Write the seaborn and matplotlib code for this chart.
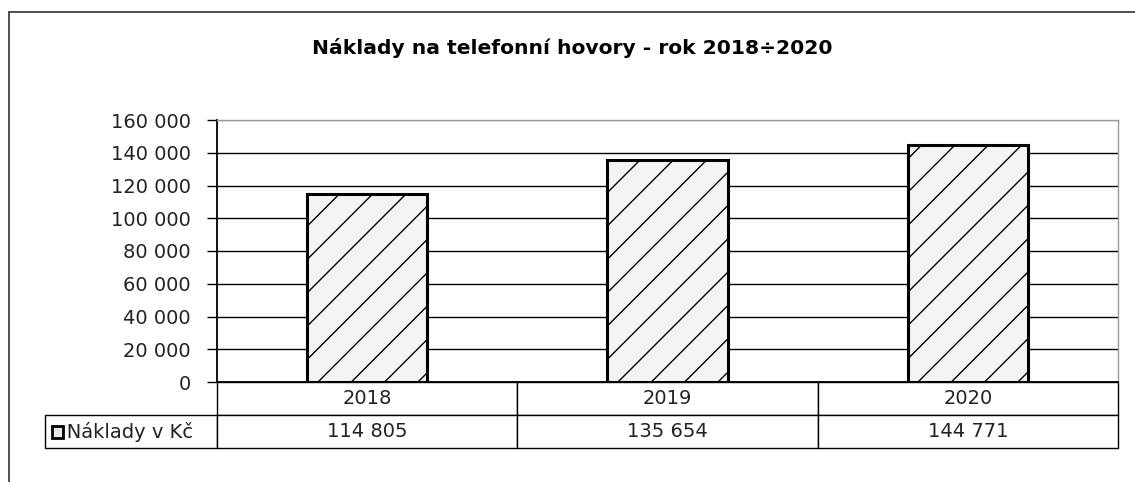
import pandas as pd
import seaborn as sns
import matplotlib.pyplot as plt
from matplotlib.patches import Rectangle
from matplotlib.lines import Line2D

# Chart data
years = ["2018", "2019", "2020"]
costs = [114805, 135654, 144771]
series_name = "Náklady v Kč"
title = "Náklady na telefonní hovory - rok 2018÷2020"
y_ticks = [0, 20000, 40000, 60000, 80000, 100000, 120000, 140000, 160000]


def fmt(v):
    return f"{v:,}".replace(",", " ")


df = pd.DataFrame({"rok": years, "naklady": costs})

sns.set_style("white")
plt.rcParams['font.family'] = ['DejaVu Sans']
plt.rcParams['hatch.linewidth'] = 1.0

W, H = 1135, 482
fig = plt.figure(figsize=(W / 100, H / 100), dpi=100)
fig.patch.set_facecolor("white")

# plot area in pixels
left, top, right, zero = 217, 120, 1118, 382
ax = fig.add_axes([left / W, 1 - zero / H, (right - left) / W, (zero - top) / H])

sns.barplot(data=df, x="rok", y="naklady", ax=ax, color="#f4f4f4",
            edgecolor="black", linewidth=2.2, width=0.4, hatch="/")

ax.set_ylim(0, 160000)
ax.set_xlim(-0.5, 2.5)
ax.set_yticks(y_ticks)
ax.set_yticklabels([fmt(v) for v in y_ticks], fontsize=14, color="#222222")
ax.set_xticks([])
ax.set_xlabel("")
ax.set_ylabel("")
ax.tick_params(axis="y", direction="out", length=7, width=1, color="black", pad=12, left=True)

ax.yaxis.grid(True, color="black", linewidth=1)
ax.set_axisbelow(True)
gl = ax.yaxis.get_gridlines()
gl[-1].set_color("#999999")

for s in ["top", "right"]:
    ax.spines[s].set_color("#999999")
    ax.spines[s].set_linewidth(1)
ax.spines["left"].set_color("black")
ax.spines["left"].set_linewidth(1.3)
ax.spines["bottom"].set_color("black")
ax.spines["bottom"].set_linewidth(1.3)

# data table under the chart
label_w = 172
pw = right - left
ph = zero - top
row_h = 33
cells = [[""] + years, [series_name] + [fmt(v) for v in costs]]
tbl = ax.table(cellText=cells, cellLoc="center",
               colWidths=[label_w] + [pw / 3] * 3,
               bbox=[-label_w / pw, -2 * row_h / ph, 1 + label_w / pw, 2 * row_h / ph])
tbl.auto_set_font_size(False)
for (r, c), cell in tbl.get_celld().items():
    cell.set_linewidth(1)
    cell.set_edgecolor("black")
    cell.get_text().set_fontsize(14)
    cell.get_text().set_color("#222222")
tbl[0, 0].visible_edges = "open"
lab = tbl[1, 0].get_text()
lab.set_text("   " + series_name)
lab.set_horizontalalignment("left")
tbl[1, 0]._loc = "left"
tbl[1, 0].PAD = 0.02

# legend key in the label cell
key = Rectangle((52 / W, 1 - 438 / H), 11 / W, 12 / H, transform=fig.transFigure,
                facecolor="#e8e8e8", edgecolor="black", linewidth=2)
fig.add_artist(key)

# outer chart frame
fig.add_artist(Line2D([9 / W, 1], [1 - 12 / H, 1 - 12 / H], transform=fig.transFigure,
                      color="#333333", linewidth=1.2))
fig.add_artist(Line2D([9 / W, 9 / W], [0, 1 - 12 / H], transform=fig.transFigure,
                      color="#333333", linewidth=1.2))

fig.text(572 / W, 1 - 48 / H, title, ha="center", va="center",
         fontsize=14.6, fontweight="bold", color="black")

fig.savefig("out.png", dpi=100, facecolor="white")
